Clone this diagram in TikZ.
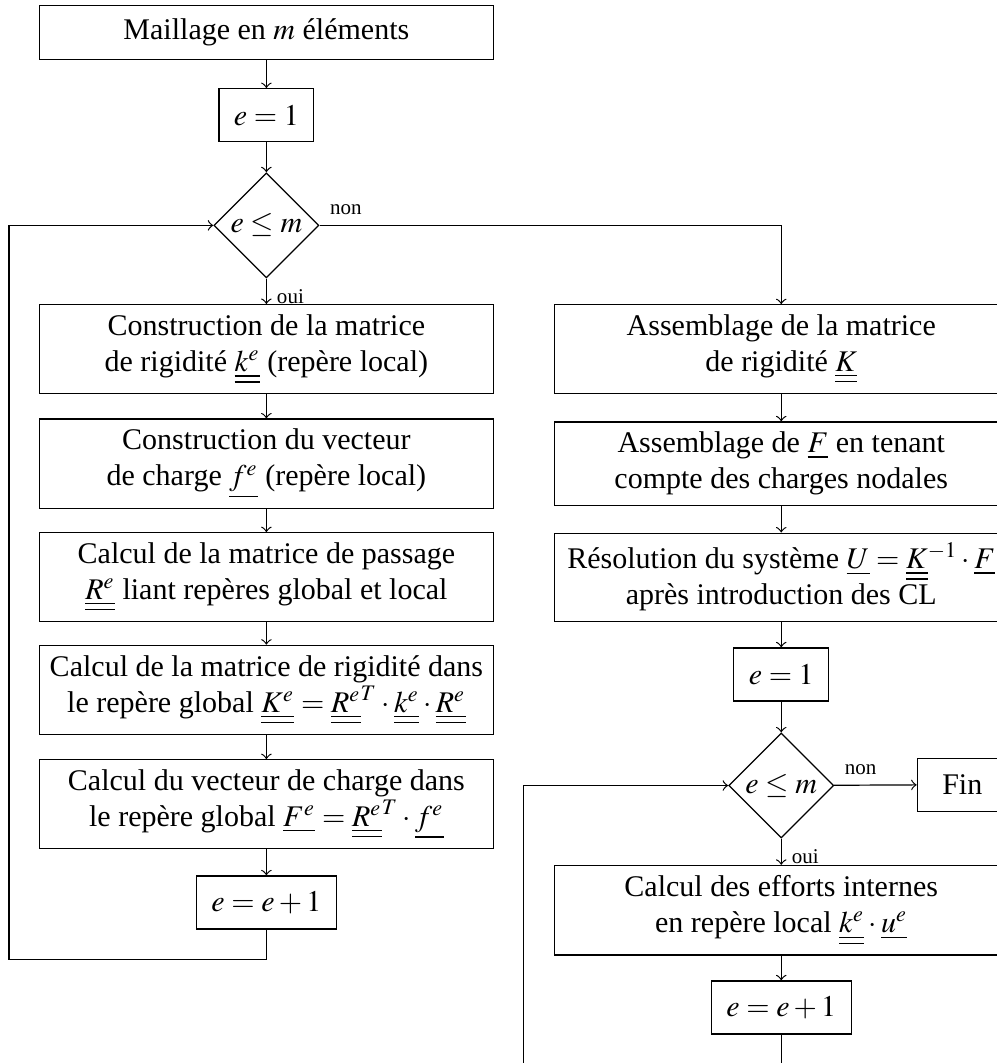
\documentclass[tikz,border=0pt]{standalone}
\usepackage{mathptmx}
\usepackage{fontspec}
\setmainfont{Liberation Serif}
\usetikzlibrary{shapes.geometric}

\begin{document}
\begin{tikzpicture}[
  bloc/.style={draw,align=center,minimum width=151.3pt,minimum height=18pt},
  pas/.style={draw,inner sep=.5em,minimum width=3em,minimum height=17.7pt},
  test/.style={draw,diamond,inner sep=0pt,minimum size=35pt},
  rep/.style={font=\scriptsize},
  fl/.style={->}]
  \path[use as bounding box] (0,0) rectangle (11.67,-12.45);
  % Left-hand column: loop over the elements
  \node[bloc]   (M)   at (3.12,-0.38)  {Maillage en $m$ éléments};
  \node[pas]    (I0)  at (3.12,-1.35)  {$e=1$};
  \node[test]   (D1)  at (3.12,-2.64)  {$e\leq m$};
  \node[bloc]   (C1)  at (3.12,-4.09)  {Construction de la matrice\\de rigidité $\underline{\underline{k^e}}$ (repère local)};
  \node[bloc]   (C2)  at (3.12,-5.43)  {Construction du vecteur\\de charge $\underline{f^e}$ (repère local)};
  \node[bloc]   (C3)  at (3.12,-6.76)  {Calcul de la matrice de passage\\$\underline{\underline{R^e}}$ liant repères global et local};
  \node[bloc]   (C4)  at (3.12,-8.08)  {Calcul de la matrice de rigidité dans\\le repère global $\underline{\underline{K^e}}=\underline{\underline{R^e}}^T\cdot\underline{\underline{k^e}}\cdot\underline{\underline{R^e}}$};
  \node[bloc]   (C5)  at (3.12,-9.42)  {Calcul du vecteur de charge dans\\le repère global $\underline{F^e}=\underline{\underline{R^e}}^T\cdot\underline{f^e}$};
  \node[pas]    (I1)  at (3.12,-10.57) {$e=e+1$};
  \coordinate   (L1)  at (0.105,-11.235);
  \node[rep,anchor=south west] (non1) at (D1.east)  {non};
  \node[rep,anchor=north west] (oui1) at (D1.south) {oui};
  % Right-hand column: assembly, solution, internal forces
  \node[bloc]   (R1)  at (9.15,-4.09)  {Assemblage de la matrice\\de rigidité $\underline{\underline{K}}$};
  \node[bloc]   (R2)  at (9.15,-5.43)  {Assemblage de $\underline{F}$ en tenant\\compte des charges nodales};
  \node[bloc]   (R3)  at (9.15,-6.76)  {Résolution du système $\underline{U}=\underline{\underline{K}}^{-1}\cdot\underline{F}$\\après introduction des CL};
  \node[pas]    (J0)  at (9.15,-7.90)  {$e=1$};
  \node[test]   (D2)  at (9.15,-9.20)  {$e\leq m$};
  \node[pas]    (F)   at (11.27,-9.19) {Fin};
  \node[bloc]   (R4)  at (9.15,-10.66) {Calcul des efforts internes\\en repère local $\underline{\underline{k^e}}\cdot\underline{u^e}$};
  \node[pas]    (J1)  at (9.15,-11.80) {$e=e+1$};
  \coordinate   (L2)  at (6.127,-12.465);
  \node[rep,anchor=south west] (non2) at (D2.east)  {non};
  \node[rep,anchor=north west] (oui2) at (D2.south) {oui};
  % connectors
  \draw[fl] (M) -- (I0);
  \draw[fl] (I0) -- (D1);
  \draw[fl] (D1) -- (C1);
  \draw[fl] (C1) -- (C2);
  \draw[fl] (C2) -- (C3);
  \draw[fl] (C3) -- (C4);
  \draw[fl] (C4) -- (C5);
  \draw[fl] (C5) -- (I1);
  \draw[fl] (I1) |- (L1) |- (D1);
  \draw[fl] (D1) -| (R1);
  \draw[fl] (R1) -- (R2);
  \draw[fl] (R2) -- (R3);
  \draw[fl] (R3) -- (J0);
  \draw[fl] (J0) -- (D2);
  \draw[fl] (D2) -- (F);
  \draw[fl] (D2) -- (R4);
  \draw[fl] (R4) -- (J1);
  \draw[fl] (J1) |- (L2) |- (D2);
\end{tikzpicture}
\end{document}
